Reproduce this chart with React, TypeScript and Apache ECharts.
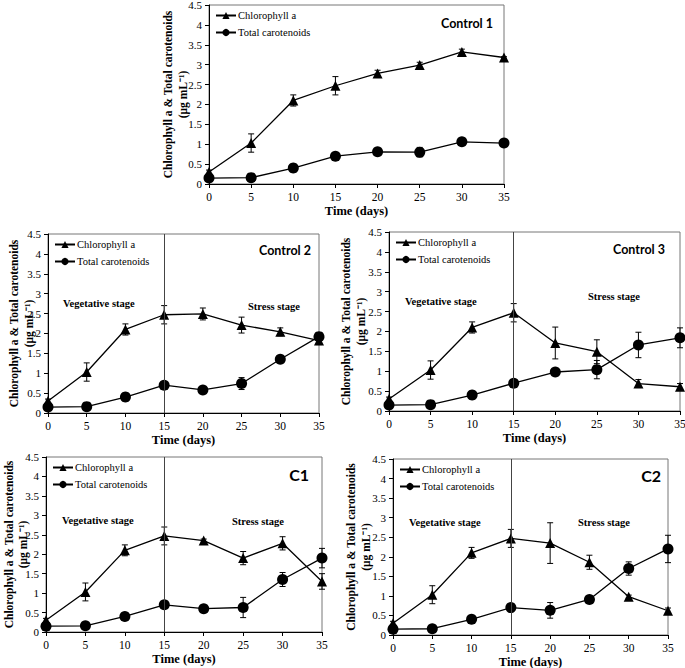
import React, { useEffect, useRef } from "react";
import * as echarts from "echarts";

const days = [0, 5, 10, 15, 20, 25, 30, 35];
const yTicks = [0, 0.5, 1, 1.5, 2, 2.5, 3, 3.5, 4, 4.5];

const panelNames = ["Control 1", "Control 2", "Control 3", "C1", "C2"];

const chl1 = [0.3, 1.03, 2.1, 2.47, 2.78, 2.99, 3.32, 3.18];
const chl1Err = [0.05, 0.23, 0.14, 0.23, 0.08, 0.07, 0.07, 0.02];
const car1 = [0.15, 0.16, 0.4, 0.7, 0.81, 0.8, 1.06, 1.03];
const car1Err = [0.03, 0.03, 0.1, 0.05, 0.04, 0.12, 0.04, 0.03];

const chl2 = [0.3, 1.03, 2.1, 2.47, 2.49, 2.21, 2.04, 1.82];
const chl2Err = [0.05, 0.23, 0.14, 0.23, 0.15, 0.2, 0.1, 0.1];
const car2 = [0.15, 0.16, 0.4, 0.7, 0.58, 0.74, 1.35, 1.92];
const car2Err = [0.03, 0.03, 0.1, 0.05, 0.06, 0.15, 0.05, 0.1];

const chl3 = [0.3, 1.03, 2.1, 2.47, 1.71, 1.49, 0.69, 0.61];
const chl3Err = [0.05, 0.23, 0.14, 0.23, 0.4, 0.3, 0.1, 0.08];
const car3 = [0.15, 0.16, 0.4, 0.7, 0.98, 1.04, 1.66, 1.84];
const car3Err = [0.03, 0.03, 0.1, 0.05, 0.04, 0.23, 0.32, 0.25];

const chlC1 = [0.3, 1.03, 2.1, 2.47, 2.35, 1.9, 2.28, 1.3];
const chlC1Err = [0.05, 0.23, 0.14, 0.23, 0.04, 0.17, 0.17, 0.2];
const carC1 = [0.15, 0.16, 0.4, 0.7, 0.6, 0.63, 1.35, 1.9];
const carC1Err = [0.03, 0.03, 0.1, 0.05, 0.06, 0.26, 0.18, 0.25];

const chlC2 = [0.3, 1.03, 2.1, 2.47, 2.35, 1.86, 0.98, 0.62];
const chlC2Err = [0.05, 0.23, 0.14, 0.23, 0.52, 0.18, 0.04, 0.07];
const carC2 = [0.15, 0.16, 0.4, 0.7, 0.63, 0.91, 1.7, 2.2];
const carC2Err = [0.03, 0.03, 0.1, 0.05, 0.2, 0.04, 0.17, 0.35];

const chlAll = [chl1, chl2, chl3, chlC1, chlC2];
const chlErrAll = [chl1Err, chl2Err, chl3Err, chlC1Err, chlC2Err];
const carAll = [car1, car2, car3, carC1, carC2];
const carErrAll = [car1Err, car2Err, car3Err, carC1Err, carC2Err];

const grids = [
  { left: 209, top: 5, width: 295, height: 179 },
  { left: 48, top: 234, width: 271, height: 179 },
  { left: 389, top: 232, width: 291, height: 179 },
  { left: 46, top: 457, width: 276, height: 175 },
  { left: 393, top: 459, width: 275, height: 176 },
];

const yNameGaps = [19, 12, 21, 16, 20];

const panelLabelPos = [
  { x: 493, y: 23, size: 12.5 },
  { x: 311, y: 250, size: 12.5 },
  { x: 665, y: 249, size: 12.5 },
  { x: 309, y: 474, size: 16 },
  { x: 661, y: 475, size: 16 },
];

const stageLabels = [
  null,
  { veg: [63, 303], str: [274, 306] },
  { veg: [405, 301], str: [614, 296] },
  { veg: [62, 520], str: [258, 521] },
  { veg: [409, 522], str: [604, 522] },
];

const SERIF = "Times New Roman";

function errData(vals: number[], errs: number[]) {
  return days.map((d, i) => [d, vals[i] - errs[i], vals[i] + errs[i]]);
}

const renderErr = (params: any, api: any) => {
  const x = api.value(0);
  const lo = api.coord([x, api.value(1)]);
  const hi = api.coord([x, api.value(2)]);
  const cw = 3;
  const st = { stroke: "#000", lineWidth: 1 };
  return {
    type: "group",
    children: [
      { type: "line", shape: { x1: lo[0], y1: lo[1], x2: hi[0], y2: hi[1] }, style: st },
      { type: "line", shape: { x1: lo[0] - cw, y1: lo[1], x2: lo[0] + cw, y2: lo[1] }, style: st },
      { type: "line", shape: { x1: hi[0] - cw, y1: hi[1], x2: hi[0] + cw, y2: hi[1] }, style: st },
    ],
  };
};

export default function App() {
  const ref = useRef<HTMLDivElement>(null);
  useEffect(() => {
    const chart = echarts.init(ref.current!, undefined, { renderer: "svg" });
    const series: any[] = [];
    const legends: any[] = [];
    const graphics: any[] = [];
    grids.forEach((g, i) => {
      series.push({
        type: "custom",
        xAxisIndex: i,
        yAxisIndex: i,
        renderItem: renderErr,
        data: errData(chlAll[i], chlErrAll[i]),
        encode: { x: 0, y: [1, 2] },
        z: 3,
        silent: true,
      });
      series.push({
        type: "custom",
        xAxisIndex: i,
        yAxisIndex: i,
        renderItem: renderErr,
        data: errData(carAll[i], carErrAll[i]),
        encode: { x: 0, y: [1, 2] },
        z: 3,
        silent: true,
      });
      const chlSeries: any = {
        name: "Chlorophyll a",
        type: "line",
        xAxisIndex: i,
        yAxisIndex: i,
        data: days.map((d, k) => [d, chlAll[i][k]]),
        symbol: "triangle",
        symbolSize: 10,
        itemStyle: { color: "#000" },
        lineStyle: { color: "#000", width: 1.3 },
        z: 4,
      };
      if (i > 0) {
        chlSeries.markLine = {
          silent: true,
          symbol: "none",
          label: { show: false },
          lineStyle: { color: "#444", width: 1, type: "solid" },
          data: [{ xAxis: 15 }],
        };
      }
      series.push(chlSeries);
      series.push({
        name: "Total carotenoids",
        type: "line",
        xAxisIndex: i,
        yAxisIndex: i,
        data: days.map((d, k) => [d, carAll[i][k]]),
        symbol: "circle",
        symbolSize: 11,
        itemStyle: { color: "#000" },
        lineStyle: { color: "#000", width: 1.3 },
        z: 4,
      });
      legends.push({
        orient: "vertical",
        left: g.left + 6,
        top: g.top + 5,
        itemWidth: 20,
        itemHeight: 9,
        itemGap: 6,
        padding: 0,
        data: ["Chlorophyll a", "Total carotenoids"],
        textStyle: { fontFamily: SERIF, fontSize: 10.5, color: "#000", padding: [0, 0, 0, -3] },
      });
      const pl = panelLabelPos[i];
      graphics.push({
        type: "text",
        x: pl.x,
        y: pl.y,
        style: {
          text: panelNames[i],
          fontFamily: "Lato",
          fontWeight: "bold",
          fontSize: pl.size,
          fill: "#000",
          textAlign: "right",
          textVerticalAlign: "middle",
        },
      });
      const st = stageLabels[i];
      if (st) {
        graphics.push({
          type: "text",
          x: st.veg[0],
          y: st.veg[1],
          style: {
            text: "Vegetative stage",
            fontFamily: SERIF,
            fontWeight: "bold",
            fontSize: 10.5,
            fill: "#000",
            textAlign: "left",
            textVerticalAlign: "middle",
          },
        });
        graphics.push({
          type: "text",
          x: st.str[0],
          y: st.str[1],
          style: {
            text: "Stress stage",
            fontFamily: SERIF,
            fontWeight: "bold",
            fontSize: 10.5,
            fill: "#000",
            textAlign: "center",
            textVerticalAlign: "middle",
          },
        });
      }
    });

    chart.setOption({
      animation: false,
      backgroundColor: "#fff",
      textStyle: { fontFamily: SERIF },
      grid: grids.map((g) => ({
        ...g,
        show: true,
        containLabel: false,
        outerBoundsMode: "none",
        borderColor: "#777",
        borderWidth: 1,
        backgroundColor: "transparent",
      })),
      xAxis: grids.map((g, i) => ({
        type: "value",
        gridIndex: i,
        min: 0,
        max: 35,
        interval: 5,
        name: "Time (days)",
        nameLocation: "middle",
        nameGap: 20,
        nameMoveOverlap: false,
        nameTextStyle: { fontFamily: SERIF, fontWeight: "bold", fontSize: 12.5, color: "#000" },
        axisLine: { lineStyle: { color: "#000", width: 1 } },
        axisTick: { show: true, length: 4, lineStyle: { color: "#000" } },
        axisLabel: { fontFamily: SERIF, fontSize: 11.5, color: "#000", margin: 7 },
        splitLine: { show: false },
      })),
      yAxis: grids.map((g, i) => ({
        type: "value",
        gridIndex: i,
        min: yTicks[0],
        max: yTicks[yTicks.length - 1],
        interval: 0.5,
        name: "Chlorophyll a & Total carotenoids\n(μg mL⁻¹)",
        nameLocation: "middle",
        nameGap: yNameGaps[i],
        nameMoveOverlap: false,
        nameTextStyle: {
          fontFamily: SERIF,
          fontWeight: "bold",
          fontSize: 11.5,
          color: "#000",
          lineHeight: i === 3 ? 14 : 15,
        },
        axisLine: { lineStyle: { color: "#000", width: 1 } },
        axisTick: { show: true, length: 4, lineStyle: { color: "#000" } },
        axisLabel: { fontFamily: SERIF, fontSize: 11, color: "#000", margin: 7 },
        splitLine: { show: false },
      })),
      legend: legends,
      graphic: graphics,
      series,
    });
    return () => chart.dispose();
  }, []);
  return (
    <div
      ref={ref}
      style={{ position: "absolute", left: 0, top: 0, width: 685, height: 668 }}
    />
  );
}
